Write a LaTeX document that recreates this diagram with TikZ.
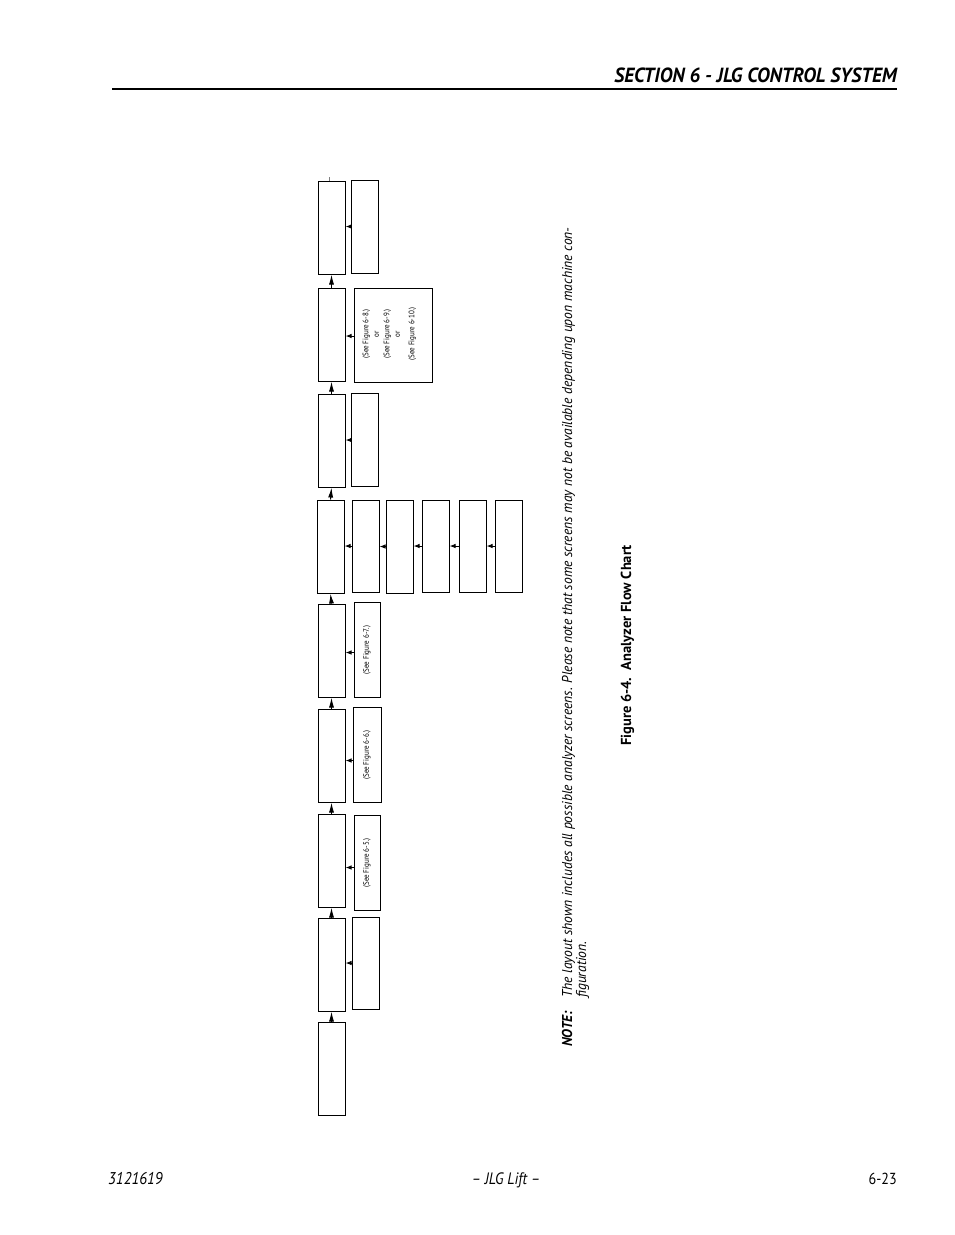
\documentclass[tikz,border=0pt]{standalone}
\usepackage{fontspec}
\setmainfont{PT Sans}[FakeStretch=0.88]
\newfontfamily\widefont{PT Sans}[FakeStretch=0.95]
\newfontfamily\capfont{PT Sans}
\usetikzlibrary{arrows.meta}

\begin{document}
\begin{tikzpicture}[x=1pt,y=-1pt,
  screen/.style={draw, line width=1pt, inner sep=0pt, minimum width=27pt, minimum height=93pt},
  uparrow/.style={line width=1pt, -{Latex[length=10pt,width=5pt]}},
  sidearrow/.style={line width=1pt, -{Latex[length=6pt,width=4.5pt]}},
  seetext/.style={font=\fontsize{8}{10.5}\selectfont, rotate=90, align=center, inner sep=0pt},
  notetext/.style={font=\widefont\fontsize{14.3}{17}\selectfont\itshape, rotate=90, inner sep=0pt}
]

\fill[white] (0,0) rectangle (954,1235);
\useasboundingbox (0,0) rectangle (954,1235);

% page header and footer
\node[anchor=base east, inner sep=0pt, font=\widefont\fontsize{20.5}{24}\selectfont\bfseries\itshape] (head) at (897,82) {SECTION 6 - JLG CONTROL SYSTEM};
\coordinate (ruleL) at (112,89);
\coordinate (ruleR) at (897,89);
\draw[line width=1.3pt] (ruleL) -- (ruleR);

\node[anchor=base west, inner sep=0pt, font=\fontsize{17}{20}\selectfont\itshape] (docno) at (108,1184) {3121619};
\node[anchor=base, inner sep=0pt, font=\fontsize{16.5}{20}\selectfont\itshape] (brand) at (506,1184) {-- JLG Lift --};
\node[anchor=base east, inner sep=0pt, font=\fontsize{16}{19}\selectfont] (pageno) at (897,1184) {6-23};

% main column of screens
\node[screen] (m1) at (331.5,227.5) {};
\node[screen] (m2) at (331.5,334.5) {};
\node[screen] (m3) at (331.5,440.5) {};
\node[screen] (m4) at (330.5,546.5) {};
\node[screen] (m5) at (331.5,650.5) {};
\node[screen] (m6) at (331.5,755.5) {};
\node[screen] (m7) at (331.5,860.5) {};
\node[screen] (m8) at (331.5,964.5) {};
\node[screen] (m9) at (331.5,1068.5) {};

\coordinate (tick) at (329,177);
\draw[line width=0.6pt, gray] (tick) -- (tick |- m1.north);

\draw[uparrow] (m2.north) -- (m1.south);
\draw[uparrow] (m3.north) -- (m2.south);
\draw[uparrow] (m4.north) -- (m3.south);
\draw[uparrow] (m5.north) -- (m4.south);
\draw[uparrow] (m6.north) -- (m5.south);
\draw[uparrow] (m7.north) -- (m6.south);
\draw[uparrow] (m8.north) -- (m7.south);
\draw[uparrow] (m9.north) -- (m8.south);

% side screens
\node[screen] (s1) at (364.5,226.5) {};
\node[screen, minimum width=78pt, minimum height=94pt] (s2) at (393,335) {};
\node[screen] (s3) at (364.5,440) {};
\node[screen, minimum height=92pt] (s4a) at (365.5,546) {};
\node[screen] (s4b) at (399.5,546.5) {};
\node[screen, minimum height=92pt] (s4c) at (435.5,546) {};
\node[screen, minimum height=92pt] (s4d) at (472.5,546) {};
\node[screen, minimum height=92pt] (s4e) at (508.5,546) {};
\node[screen, minimum width=26pt, minimum height=95pt] (s5) at (367,649.5) {};
\node[screen, minimum width=28pt, minimum height=95pt] (s6) at (367,754.5) {};
\node[screen, minimum width=26pt, minimum height=95pt] (s7) at (367,862.5) {};
\node[screen, minimum height=92pt] (s8) at (365.5,963) {};

\node[seetext] (t2) at (389.5,334) {(See Figure 6-8.)\\ or\\ (See Figure 6-9.)\\ or\\[4pt] (See Figure 6-10.)};
\node[seetext] (t5) at (367,650) {(See Figure 6-7.)};
\node[seetext] (t6) at (367,755) {(See Figure 6-6.)};
\node[seetext] (t7) at (367,863) {(See Figure 6-5.)};

\draw[sidearrow] (s1.west) -- (s1.west -| m1.east);
\draw[sidearrow] ([yshift=-1pt]s2.west) -- ([yshift=-1pt]s2.west -| m2.east);
\draw[sidearrow] (s3.west) -- (s3.west -| m3.east);
\draw[sidearrow] (s4a.west) -- (s4a.west -| m4.east);
\draw[sidearrow] (s4b.west) -- (s4b.west -| s4a.east);
\draw[sidearrow] (s4c.west) -- (s4c.west -| s4b.east);
\draw[sidearrow] (s4d.west) -- (s4d.west -| s4c.east);
\draw[sidearrow] (s4e.west) -- (s4e.west -| s4d.east);
\draw[sidearrow] ([yshift=-3pt]s5.west) -- ([yshift=-3pt]s5.west -| m5.east);
\draw[sidearrow] ([yshift=-6pt]s6.west) -- ([yshift=-6pt]s6.west -| m6.east);
\draw[sidearrow] ([yshift=-5pt]s7.west) -- ([yshift=-5pt]s7.west -| m7.east);
\draw[sidearrow] (s8.west) -- (s8.west -| m8.east);

% note and caption
\node[notetext, anchor=base west, font=\widefont\fontsize{14.3}{17}\selectfont\bfseries\itshape] (notehead) at (572,1047) {NOTE:};
\node[notetext, anchor=base west] (note1) at (572,998) {The layout shown includes all possible analyzer screens. Please note that some screens may not be available depending upon machine con-};
\node[notetext, anchor=base west] (note2) at (586,998) {figuration.};

\node[anchor=base, rotate=90, inner sep=0pt, font=\capfont\fontsize{14.5}{17}\selectfont\bfseries] (caption) at (631,645.5) {Figure 6-4.\ \ Analyzer Flow Chart};

\end{tikzpicture}
\end{document}
